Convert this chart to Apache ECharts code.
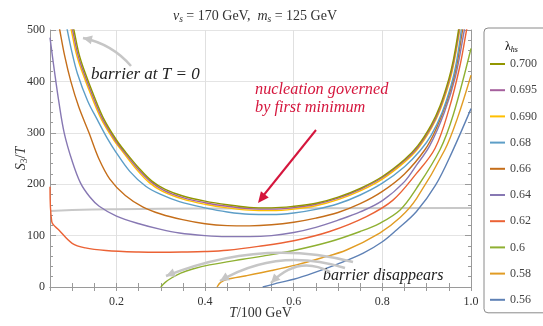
<!DOCTYPE html>
<html>
<head>
<meta charset="utf-8">
<script src="https://cdn.jsdelivr.net/npm/echarts@6/dist/echarts.min.js"></script>
<style>html,body{margin:0;padding:0;background:#fff}#c{width:543px;height:326px}</style>
</head>
<body>
<div id="c"></div>
<script>
// ---- data ----
const lambdas = ['0.56','0.58','0.6','0.62','0.64','0.66','0.68','0.690','0.695','0.700'];
const colors = ['#5E81B5','#E19C24','#8FB032','#EB6235','#8778B3','#C56E1A','#5D9EC7','#FFBF00','#A5609D','#929600'];
const xTicks = [0.2,0.4,0.6,0.8,1.0];
const yTicks = [0,100,200,300,400,500];

const s056 = [[0.53,0],[0.57,9],[0.6,15],[0.643,27],[0.7,45],[0.757,66],[0.8,88],[0.832,111],[0.877,147],[0.92,198],[0.957,262],[1.0,347]];
const s058 = [[0.427,0],[0.435,9],[0.45,15],[0.493,22],[0.55,32],[0.606,43],[0.66,56],[0.719,72],[0.794,105],[0.84,135],[0.877,172],[0.941,267],[0.97,330],[1.0,412]];
const s060 = [[0.3,0],[0.31,9],[0.325,18],[0.345,27],[0.372,35],[0.41,43],[0.485,54],[0.53,60],[0.6,71],[0.681,88],[0.75,108],[0.794,124],[0.84,150],[0.877,192],[0.93,267],[0.96,335],[1.0,464]];
const s062 = [[0.05,195],[0.054,127],[0.07,111],[0.1,85],[0.13,76],[0.176,71],[0.25,68],[0.3,67.5],[0.35,68],[0.4,69],[0.45,71.5],[0.52,79],[0.6,90],[0.681,108],[0.764,137],[0.824,169],[0.877,221],[0.919,270],[0.95,345],[0.975,430],[0.99,500],[1.0,545]];
const s064 = [[0.05,485],[0.06,420],[0.07,360],[0.082,300],[0.1,245],[0.119,202],[0.14,175],[0.161,157],[0.2,138],[0.251,123],[0.3,112],[0.342,105],[0.4,100],[0.447,98],[0.5,98],[0.55,100],[0.6,106],[0.65,116],[0.7,130],[0.75,146],[0.8,168],[0.85,205],[0.877,237],[0.907,275],[0.94,340],[0.965,410],[0.985,500],[0.99,525]];
const s066 = [[0.068,520],[0.072,500],[0.083,450],[0.097,400],[0.115,350],[0.138,300],[0.16,250],[0.185,210],[0.22,178],[0.259,156],[0.3,142],[0.349,131],[0.4,123],[0.45,119.5],[0.5,119],[0.55,121],[0.6,126],[0.65,134],[0.7,145],[0.75,162],[0.8,186],[0.85,220],[0.896,267],[0.92,305],[0.945,360],[0.965,420],[0.981,500],[0.985,520]];
const s068 = [[0.085,520],[0.089,500],[0.1,455],[0.112,415],[0.135,362],[0.157,325],[0.18,288],[0.199,262],[0.23,225],[0.266,196],[0.3,180],[0.342,166],[0.4,154],[0.45,146],[0.5,141.5],[0.55,141],[0.6,144],[0.65,151],[0.7,162],[0.75,179],[0.8,202],[0.85,234],[0.885,265],[0.91,295],[0.935,340],[0.955,392],[0.965,428],[0.975,480],[0.98,515]];
const s0690 = [[0.094,515],[0.098,500],[0.109,455],[0.121,422],[0.144,370],[0.166,326],[0.194,286],[0.215,262],[0.244,230],[0.274,203],[0.304,186],[0.35,171],[0.4,161],[0.45,154],[0.5,149.5],[0.55,148.5],[0.6,151.5],[0.65,158],[0.7,170],[0.75,187],[0.8,210],[0.85,243],[0.88,269],[0.91,308],[0.93,344],[0.95,395],[0.96,430],[0.97,476],[0.978,520]];
const s0695 = [[0.097,515],[0.101,500],[0.112,455],[0.124,422],[0.147,370],[0.169,326],[0.197,286],[0.218,262],[0.247,231],[0.277,205],[0.307,188],[0.35,174],[0.4,164],[0.45,157],[0.5,152.5],[0.55,151.5],[0.6,154.5],[0.65,161],[0.7,173],[0.75,190],[0.8,213],[0.85,246],[0.88,272],[0.91,311],[0.93,348],[0.95,400],[0.96,435],[0.97,482],[0.975,512]];
const s0700 = [[0.1,515],[0.104,500],[0.115,455],[0.127,422],[0.15,370],[0.172,326],[0.2,286],[0.221,262],[0.25,232],[0.28,206],[0.31,190],[0.35,177],[0.4,167],[0.45,160],[0.5,155],[0.55,154],[0.6,157],[0.65,163],[0.7,175],[0.75,192],[0.8,215],[0.85,248],[0.88,275],[0.91,315],[0.93,352],[0.95,405],[0.96,441],[0.97,490],[0.975,520]];
const grayRef = [[0.05,148],[0.1,150],[0.2,151.5],[0.4,152.5],[0.6,153],[1.0,153.5]];

const seriesData = [s056,s058,s060,s062,s064,s066,s068,s0690,s0695,s0700];

// ---- chart ----
const FONT = 'Liberation Serif';
const chart = echarts.init(document.getElementById('c'), null, {renderer:'canvas'});
const frame = '#9a9a9a';

function arrowHead(tx, ty, fx, fy, len, half, color) {
  const dx = tx - fx, dy = ty - fy, L = Math.hypot(dx, dy);
  const ux = dx / L, uy = dy / L, px = -uy, py = ux;
  const bx = tx - ux * len, by = ty - uy * len;
  return {type:'polygon', silent:true, z:100,
    shape:{points:[[tx,ty],[bx+px*half,by+py*half],[bx-px*half,by-py*half]]},
    style:{fill:color}};
}
function curveArrow(x1,y1,cx,cy,x2,y2,color,w) {
  return [
    {type:'bezierCurve', silent:true, z:100, shape:{x1:x1,y1:y1,cpx1:cx,cpy1:cy,x2:x2,y2:y2}, style:{stroke:color, lineWidth:w, fill:null}},
    arrowHead(x2,y2,cx,cy,9,4.5,color)
  ];
}
const gray = '#c6c6c6';
const red = '#d5163d';

const series = seriesData.map((d,i)=>({
  name: lambdas[i], type:'line', data:d, smooth:0.35, symbol:'none',
  color: colors[i], lineStyle:{width:1.4, color:colors[i]}, z: 3 + i, clip:true
}));
series.push({name:'ref', type:'line', data:grayRef, smooth:true, symbol:'none',
  lineStyle:{width:2, color:'#c8c8c8'}, z:2, silent:true});

const option = {
  animation:false,
  backgroundColor:'#fff',
  title:{
    text:'{i|v}{s|s}{n| = 170 GeV,  }{i|m}{s|s}{n| = 125 GeV}',
    left:250, top:4, textAlign:'center',
    textStyle:{fontWeight:'normal', rich:{
      i:{fontFamily:FONT, fontStyle:'italic', fontWeight:'normal', fontSize:14, color:'#333'},
      s:{fontFamily:FONT, fontStyle:'italic', fontWeight:'normal', fontSize:9.5, color:'#333', padding:[5,0,0,0]},
      n:{fontFamily:FONT, fontWeight:'normal', fontSize:14, color:'#333'}
    }}
  },
  grid:{left:50, right:72, top:30, bottom:39, outerBoundsMode:'none', containLabel:false},
  legend:{
    orient:'vertical', left:484, top:28, padding:[29,14,6,6],
    itemWidth:15, itemHeight:2, itemGap:12.2, icon:'rect',
    borderColor:'#8a8a8a', borderWidth:1, borderRadius:4,
    textStyle:{fontFamily:FONT, fontSize:12, color:'#444', lineHeight:14},
    data: lambdas.slice().reverse()
  },
  xAxis:[{
    type:'value', min:0.05, max:1, interval:0.05, position:'bottom',
    name:'{i|T}{n|/100 GeV}', nameLocation:'middle', nameGap:19, nameMoveOverlap:false,
    nameTextStyle:{rich:{i:{fontFamily:FONT,fontStyle:'italic',fontSize:14,color:'#333'},n:{fontFamily:FONT,fontSize:14,color:'#333'}}},
    axisLine:{show:true, lineStyle:{color:frame, width:1}},
    axisTick:{show:true, inside:true, length:4, lineStyle:{color:frame}},
    axisLabel:{fontFamily:FONT, fontSize:12, color:'#333', margin:9,
      formatter:v=>{ const k=v*5; return Math.abs(k-Math.round(k))<1e-6 ? (Math.round(k)/5).toFixed(1) : ''; }},
    splitLine:{show:true, lineStyle:{color:['rgba(0,0,0,0)','rgba(0,0,0,0)','rgba(0,0,0,0)','#e0e0e0'], width:1}}
  },{
    type:'value', min:0.05, max:1, interval:0.05, position:'top',
    axisLine:{show:true, lineStyle:{color:frame, width:1}},
    axisTick:{show:true, inside:true, length:4, lineStyle:{color:frame}},
    axisLabel:{show:false}, splitLine:{show:false}
  }],
  yAxis:[{
    type:'value', min:0, max:500, interval:100, position:'left',
    name:'{i|S}{s|3}{n|/}{i|T}', nameLocation:'middle', nameGap:21, nameRotate:90, nameMoveOverlap:false,
    nameTextStyle:{rich:{i:{fontFamily:FONT,fontStyle:'italic',fontSize:14,color:'#333'},s:{fontFamily:FONT,fontSize:9.5,color:'#333',padding:[5,0,0,0]},n:{fontFamily:FONT,fontSize:14,color:'#333'}}},
    axisLine:{show:true, lineStyle:{color:frame, width:1}},
    axisTick:{show:true, inside:true, length:6, lineStyle:{color:frame}},
    minorTick:{show:true, splitNumber:5, length:3, lineStyle:{color:frame}},
    axisLabel:{fontFamily:FONT, fontSize:12, color:'#333', margin:5},
    splitLine:{show:true, lineStyle:{color:'#e4e4e4', width:1}}
  },{
    type:'value', min:0, max:500, interval:100, position:'right',
    axisLine:{show:true, lineStyle:{color:frame, width:1}},
    axisTick:{show:true, inside:true, length:6, lineStyle:{color:frame}},
    minorTick:{show:true, splitNumber:5, length:3, lineStyle:{color:frame}},
    axisLabel:{show:false}, splitLine:{show:false}
  }],
  series: series,
  graphic:[
    {type:'text', left:505, top:41, silent:true, z:100,
      style:{text:'{l|λ}{s|hs}', rich:{l:{fontFamily:FONT,fontSize:12,color:'#333'},s:{fontFamily:FONT,fontStyle:'italic',fontSize:8,color:'#333',padding:[5,0,0,0]}}}},
    {type:'text', x:91, y:75, silent:true, z:100,
      style:{text:'barrier at T = 0', fontFamily:FONT, fontStyle:'italic', fontSize:17, fill:'#222', verticalAlign:'middle'}},
    {type:'text', x:255, y:90, silent:true, z:100,
      style:{text:'nucleation governed', fontFamily:FONT, fontStyle:'italic', fontSize:16.3, fill:red, verticalAlign:'middle'}},
    {type:'text', x:255, y:108, silent:true, z:100,
      style:{text:'by first minimum', fontFamily:FONT, fontStyle:'italic', fontSize:16.3, fill:red, verticalAlign:'middle'}},
    {type:'text', x:323, y:276, silent:true, z:100,
      style:{text:'barrier disappears', fontFamily:FONT, fontStyle:'italic', fontSize:16, fill:'#222', verticalAlign:'middle'}},
    {type:'line', silent:true, z:100, shape:{x1:316,y1:130,x2:263,y2:196}, style:{stroke:red, lineWidth:2}},
    arrowHead(258,203,316,130,11,5,red),
    ...curveArrow(131,66,112,44,83,38,gray,2.5),
    ...curveArrow(353,262,262,238,166,276,gray,2.5),
    ...curveArrow(345,268,278,247,220,281,gray,2.5),
    ...curveArrow(330,272,298,255,271,283,gray,2.5)
  ]
};
chart.setOption(option);
</script>
</body>
</html>
